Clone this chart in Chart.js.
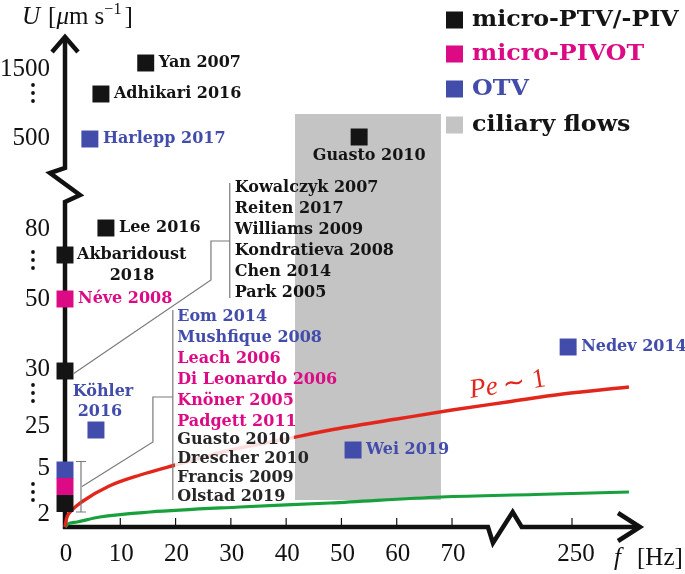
<!DOCTYPE html>
<html>
<head>
<meta charset="utf-8">
<script src="https://cdn.jsdelivr.net/npm/chart.js@4.4.1/dist/chart.umd.min.js"></script>
<style>
  html, body { margin: 0; padding: 0; background: #fff; }
  canvas { display: block; }
</style>
</head>
<body>
<canvas id="mychart" width="685" height="574"></canvas>
<script>
// -------- DATA (positions on the schematic, broken axes) --------
// x axis: frequency f [Hz], linear 0..70 then a break, 250 sits at 91.7
const xTickPos = [0, 10, 20, 30, 40, 50, 60, 70, 91.7];
const xTickLabels = ['0', '10', '20', '30', '40', '50', '60', '70', '250'];
// y axis: velocity U, non-linear schematic labels
const yTickPos = [1.4, 6.0, 10.2, 15.9, 22.9, 29.9, 39.0, 45.9];
const yTickLabels = ['2', '5', '25', '30', '50', '80', '500', '1500'];
const yDotsPos = [3.5, 13.4, 26.7, 43.4];   // vertical ellipsis between labels

// micro-PTV/-PIV
const ptvNames = ['Yan 2007', 'Adhikari 2016', 'Guasto 2010', 'Lee 2016', 'Akbaridoust 2018', '', ''];
const ptvF = [14.6, 6.5, 53.2, 7.4, 0, 0, 0];
const ptvU = [46.4, 43.3, 39.0, 29.9, 27.2, 15.6, 2.35];
// micro-PIVOT
const pivotNames = ['Néve 2008', ''];
const pivotF = [0, 0];
const pivotU = [22.8, 4.05];
// OTV
const otvNames = ['Harlepp 2017', 'Köhler 2016', '', 'Wei 2019', 'Nedev 2014'];
const otvF = [4.5, 5.6, 0, 52.1, 91.0];
const otvU = [38.8, 9.7, 5.7, 7.7, 18.0];
// ciliary flows band
const ciliaryF = [41.6, 68.0];
const ciliaryU = [2.7, 41.3];
// Pe ~ 1 curve (red)
const peF = [0, 0.3, 1.3, 3, 8, 13.6, 20, 30, 40, 48, 60, 70, 80, 90, 102];
const peU = [0, 0.9, 1.7, 2.5, 4.1, 5.2, 6.2, 7.7, 8.8, 9.7, 10.8, 11.7, 12.5, 13.3, 14.0];
// lower curve (green)
const lowF = [0, 0.5, 2.2, 6.3, 15.4, 31.6, 48, 68, 85, 102];
const lowU = [0, 0.3, 0.5, 1.0, 1.5, 2.0, 2.4, 3.0, 3.25, 3.5];

// references grouped at the U~30 point and at the U=2..5 stack
const groupA = ['Kowalczyk 2007', 'Reiten 2017', 'Williams 2009', 'Kondratieva 2008', 'Chen 2014', 'Park 2005'];
const groupB = ['Eom 2014', 'Mushfique 2008', 'Leach 2006', 'Di Leonardo 2006', 'Knöner 2005', 'Padgett 2011',
                'Guasto 2010', 'Drescher 2010', 'Francis 2009', 'Olstad 2019'];
const groupBMethod = ['OTV', 'OTV', 'PIVOT', 'PIVOT', 'PIVOT', 'PIVOT', 'PTV', 'PTV', 'PTV', 'PTV'];

const legendLabels = ['micro-PTV/-PIV', 'micro-PIVOT', 'OTV', 'ciliary flows'];

// -------- colours / fonts --------
const C = {
  PTV: '#141414',
  PIVOT: '#dc0a84',
  OTV: '#424caa',
  cilia: '#c4c4c4',
  red: '#e3261c',
  green: '#17a03c',
  bracket: '#7a7a7a'
};
const SERIF = '"Liberation Serif", serif';
const BOLD = 'bold 16px "DejaVu Serif", serif';

const pts = (xs, ys) => xs.map((v, i) => ({x: v, y: ys[i]}));

// -------- drawing helpers (axes, labels, brackets, legend) --------
const sketch = {
  id: 'sketch',
  beforeDatasetsDraw(chart) {
    const {ctx, scales: {x, y}} = chart;
    const x0 = x.getPixelForValue(0), y0 = y.getPixelForValue(0);
    ctx.save();
    ctx.strokeStyle = '#111';
    ctx.lineWidth = 4.5;
    ctx.lineJoin = 'miter';
    // y axis with zig-zag break
    const yb1 = y.getPixelForValue(35.9), yb2 = y.getPixelForValue(32.5);
    ctx.beginPath();
    ctx.moveTo(x0, y0 + 2);
    ctx.lineTo(x0, yb2);
    ctx.lineTo(x0 + 15, yb2 - 7);
    ctx.lineTo(x0 - 15, yb1 + 5);
    ctx.lineTo(x0, yb1);
    ctx.lineTo(x0, y.top + 2);
    ctx.stroke();
    ctx.beginPath();
    ctx.moveTo(x0 - 13, y.top + 15);
    ctx.lineTo(x0, y.top);
    ctx.lineTo(x0 + 13, y.top + 15);
    ctx.stroke();
    // x axis with zig-zag break
    const xb1 = x.getPixelForValue(76.5), xb2 = x.getPixelForValue(82.6);
    ctx.beginPath();
    ctx.moveTo(x0 - 2, y0);
    ctx.lineTo(xb1, y0);
    ctx.lineTo(xb1 + 5, y0 + 16);
    ctx.lineTo(xb2 - 9, y0 - 15);
    ctx.lineTo(xb2, y0);
    ctx.lineTo(x.right - 2, y0);
    ctx.stroke();
    ctx.beginPath();
    ctx.moveTo(x.right - 22, y0 - 14);
    ctx.lineTo(x.right, y0);
    ctx.lineTo(x.right - 22, y0 + 14);
    ctx.stroke();
    // x ticks
    ctx.lineWidth = 1.2;
    xTickPos.forEach(v => {
      if (v === 0) return;
      const px = x.getPixelForValue(v);
      ctx.beginPath();
      ctx.moveTo(px, y0);
      ctx.lineTo(px, y0 - 9);
      ctx.stroke();
    });
    // tick labels
    ctx.fillStyle = '#111';
    ctx.font = '25px ' + SERIF;
    ctx.textBaseline = 'middle';
    ctx.textAlign = 'center';
    xTickPos.forEach((v, i) => {
      ctx.fillText(xTickLabels[i], x.getPixelForValue(v) + (v > 80 ? 4 : 1), y0 + 27);
    });
    ctx.textAlign = 'right';
    yTickPos.forEach((v, i) => {
      ctx.fillText(yTickLabels[i], x0 - 15, y.getPixelForValue(v) + 1);
    });
    yDotsPos.forEach(v => {
      const py = y.getPixelForValue(v);
      [-8, 0, 8].forEach(d => {
        ctx.beginPath();
        ctx.arc(x0 - 32, py + d, 1.9, 0, Math.PI * 2);
        ctx.fill();
      });
    });
    // axis titles
    ctx.textAlign = 'left';
    ctx.textBaseline = 'alphabetic';
    let cx = 22;
    const piece = (txt, font, dy) => {
      ctx.font = font;
      ctx.fillText(txt, cx, 24 + (dy || 0));
      cx += ctx.measureText(txt).width;
    };
    piece('U', 'italic 25px ' + SERIF);
    cx += 8;
    piece('[', '25px ' + SERIF);
    piece('μ', 'italic 25px ' + SERIF);
    piece('m s', '25px ' + SERIF);
    piece('−1', '16px ' + SERIF, -10);
    cx += 3;
    piece(']', '25px ' + SERIF);
    cx = 614;
    ctx.font = 'italic 25px ' + SERIF;
    ctx.fillText('f', cx, 565);
    ctx.font = '25px ' + SERIF;
    ctx.fillText('[Hz]', 637, 565);
    ctx.restore();
  },
  afterDatasetsDraw(chart) {
    const {ctx, scales: {x, y}} = chart;
    const X = v => x.getPixelForValue(v), Y = v => y.getPixelForValue(v);
    ctx.save();
    // white backing under lower part of the second list
    ctx.fillStyle = 'rgba(255,255,255,0.85)';
    ctx.fillRect(X(19.9), Y(9.7), X(41.4) - X(19.9), Y(5.7) - Y(9.7));

    // point labels
    ctx.font = BOLD;
    ctx.textBaseline = 'middle';
    const label = (name, f, u, col) => {
      if (!name) return;
      const px = X(f), py = Y(u);
      ctx.fillStyle = col;
      if (name === 'Guasto 2010') {
        ctx.textAlign = 'center';
        ctx.fillText(name, px + 10, py + 19);
      } else if (name === 'Akbaridoust 2018') {
        ctx.textAlign = 'left';
        ctx.fillText('Akbaridoust', px + 12, py);
        ctx.textAlign = 'center';
        ctx.fillText('2018', px + 67, py + 21);
      } else if (name === 'Köhler 2016') {
        ctx.textAlign = 'center';
        ctx.fillText('Köhler', px + 7, py - 38);
        ctx.fillText('2016', px + 4, py - 18);
      } else {
        ctx.textAlign = 'left';
        ctx.fillText(name, px + 13, py);
      }
    };
    ptvNames.forEach((n, i) => label(n, ptvF[i], ptvU[i], C.PTV));
    pivotNames.forEach((n, i) => label(n, pivotF[i], pivotU[i], C.PIVOT));
    otvNames.forEach((n, i) => label(n, otvF[i], otvU[i], C.OTV));

    // error bar next to the 2..5 stack
    ctx.strokeStyle = C.bracket;
    ctx.lineWidth = 1.2;
    const ex = X(0) + 16, et = Y(otvU[2]) - 8.5, eb = Y(ptvU[6]) + 8.5;
    ctx.beginPath();
    ctx.moveTo(ex, et); ctx.lineTo(ex, eb);
    ctx.moveTo(ex - 5, et); ctx.lineTo(ex + 5, et);
    ctx.moveTo(ex - 5, eb); ctx.lineTo(ex + 5, eb);
    ctx.stroke();
    // bracket to list B
    ctx.beginPath();
    ctx.moveTo(ex + 1, Y(pivotU[1]));
    ctx.lineTo(X(15.9), Y(8.5));
    ctx.lineTo(X(15.9), Y(13.0));
    ctx.lineTo(X(19.5), Y(13.0));
    ctx.moveTo(X(19.5), Y(21.7));
    ctx.lineTo(X(19.5), Y(2.7));
    // bracket to list A
    ctx.moveTo(X(0) + 8, Y(ptvU[5]) + 3);
    ctx.lineTo(X(26.4), Y(24.7));
    ctx.lineTo(X(26.4), Y(28.6));
    ctx.lineTo(X(29.8), Y(28.6));
    ctx.moveTo(X(29.8), Y(34.4));
    ctx.lineTo(X(29.8), Y(22.9));
    ctx.stroke();

    // list A
    ctx.textAlign = 'left';
    ctx.fillStyle = C.PTV;
    groupA.forEach((n, i) => ctx.fillText(n, X(30.7), Y(33.9) + i * 21));
    // list B
    groupB.forEach((n, i) => {
      const m = groupBMethod[i];
      if (m === 'PTV') {
        ctx.fillStyle = '#262626';
        ctx.fillText(n, X(20.3), Y(8.7) + (i - 6) * 18.8);
      } else {
        ctx.fillStyle = C[m];
        ctx.fillText(n, X(20.3), Y(21.0) + i * 20.9);
      }
    });

    // Pe ~ 1
    ctx.save();
    ctx.translate(X(73.4), Y(12.9));
    ctx.rotate(-9 * Math.PI / 180);
    ctx.fillStyle = C.red;
    ctx.textAlign = 'left';
    ctx.textBaseline = 'alphabetic';
    ctx.font = 'italic 27px ' + SERIF;
    ctx.fillText('Pe', 0, 0);
    const w = ctx.measureText('Pe').width + 5;
    ctx.font = '27px ' + SERIF;
    ctx.fillText('∼ 1', w, 0);
    ctx.restore();

    // legend
    const legCols = [C.PTV, C.PIVOT, C.OTV, C.cilia];
    const legText = [C.PTV, C.PIVOT, C.OTV, C.PTV];
    const legY = [20, 54, 89, 125];
    ctx.font = 'bold 22px "DejaVu Serif", serif';
    ctx.textAlign = 'left';
    ctx.textBaseline = 'middle';
    legendLabels.forEach((t, i) => {
      ctx.fillStyle = legCols[i];
      ctx.fillRect(446, legY[i] - 8.5, 17, 17);
      ctx.fillStyle = legText[i];
      ctx.save();
      ctx.translate(472, legY[i]);
      ctx.scale(1.08, 1);
      ctx.fillText(t, 0, 0);
      ctx.restore();
    });
    ctx.restore();
  }
};

// -------- CHART --------
const config = {
  type: 'scatter',
  data: {
    datasets: [
      {
        label: 'micro-PTV/-PIV',
        data: pts(ptvF, ptvU),
        backgroundColor: C.PTV,
        pointStyle: 'rect', pointRadius: 12, borderWidth: 0,
        clip: false, order: 1
      },
      {
        label: 'micro-PIVOT',
        data: pts(pivotF, pivotU),
        backgroundColor: C.PIVOT,
        pointStyle: 'rect', pointRadius: 12, borderWidth: 0,
        clip: false, order: 1
      },
      {
        label: 'OTV',
        data: pts(otvF, otvU),
        backgroundColor: C.OTV,
        pointStyle: 'rect', pointRadius: 12, borderWidth: 0,
        clip: false, order: 1
      },
      {
        label: 'Pe ~ 1',
        data: pts(peF, peU),
        showLine: true,
        borderColor: C.red, borderWidth: 3.4,
        pointRadius: 0, cubicInterpolationMode: 'monotone',
        clip: false, order: 5
      },
      {
        label: 'lower',
        data: pts(lowF, lowU),
        showLine: true,
        borderColor: C.green, borderWidth: 3.2,
        pointRadius: 0, cubicInterpolationMode: 'monotone',
        clip: false, order: 5
      },
      {
        label: 'ciliary flows',
        data: [{x: ciliaryF[0], y: ciliaryU[1]}, {x: ciliaryF[1], y: ciliaryU[1]}],
        showLine: true,
        borderWidth: 0, pointRadius: 0,
        backgroundColor: C.cilia,
        fill: {value: ciliaryU[0]},
        order: 10
      }
    ]
  },
  options: {
    responsive: false,
    animation: false,
    devicePixelRatio: 1,
    layout: { padding: { left: 65, right: 45, top: 37, bottom: 47 } },
    plugins: {
      legend: { display: false },
      tooltip: { enabled: false }
    },
    scales: {
      x: { type: 'linear', min: 0, max: 104, display: false },
      y: { type: 'linear', min: 0, max: 49, display: false }
    }
  },
  plugins: [sketch]
};

const mychart = document.getElementById('mychart');
const chart = new Chart(mychart, config);
</script>
</body>
</html>
